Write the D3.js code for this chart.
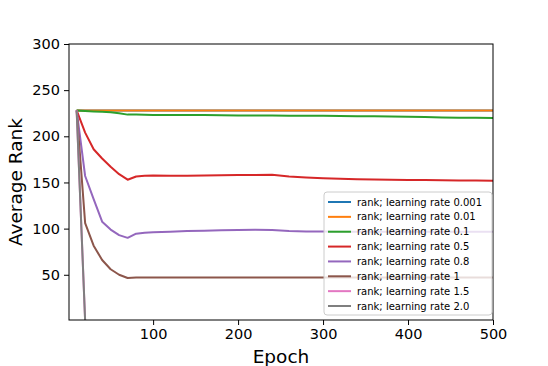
<!DOCTYPE html>
<html>
<head>
<script src="https://d3js.org/d3.v7.min.js"></script>
<style>
  body { margin: 0; background: #fff; }
  svg { font-family: "DejaVu Sans", sans-serif; }
</style>
</head>
<body>
<div id="chart"></div>
<script>
// epochs shared by every series
const epochs = [10, 20, 30, 40, 50, 60, 70, 80, 90, 100, 120, 140, 160, 180, 200, 220, 240, 260, 280, 300,
                320, 340, 360, 380, 400, 420, 440, 460, 480, 500];

const lr0001 = [228, 228, 228, 228, 228, 228, 228, 228, 228, 228, 228, 228, 228, 228, 228, 228, 228, 228, 228, 228,
                228, 228, 228, 228, 228, 228, 228, 228, 228, 228];
const lr001 = [228, 228, 228, 228, 228, 228, 228, 228, 228, 228, 228, 228, 228, 228, 228, 228, 228, 228, 228, 228,
               228, 228, 228, 228, 228, 228, 228, 228, 228, 228];
const lr01 = [228, 227.5, 227, 226.5, 226, 225, 223.5, 223.5, 223.3, 223.2, 223, 223, 223, 222.8, 222.6, 222.5, 222.5, 222.4, 222.3, 222.2,
              222, 221.8, 221.6, 221.4, 221.2, 220.8, 220.5, 220.2, 220, 219.7];
const lr05 = [228, 204, 186, 176, 167, 159, 153, 156.5, 157.3, 157.5, 157.4, 157.4, 157.6, 157.8, 158, 158.2, 158.3, 156.5, 155.3, 154.5,
              154, 153.6, 153.3, 153, 152.8, 152.6, 152.4, 152.2, 152, 151.8];
const lr08 = [228, 157, 132, 107.5, 99, 93, 90, 94.5, 95.5, 96, 96.5, 97.3, 97.8, 98.3, 98.6, 98.8, 98.5, 97.5, 97, 96.8,
              96.7, 96.6, 96.6, 96.5, 96.5, 96.5, 96.5, 96.5, 96.5, 96.5];
const lr1 = [228, 106, 81.5, 66, 56, 50, 46.5, 47, 47, 47, 47, 47, 47, 47, 47, 47, 47, 47, 47, 47,
             47, 47, 47, 47, 47, 47, 47, 47, 47, 47];
const lr15 = [228, 0, 0, 0, 0, 0, 0, 0, 0, 0, 0, 0, 0, 0, 0, 0, 0, 0, 0, 0,
              0, 0, 0, 0, 0, 0, 0, 0, 0, 0];
const lr2 = [228, 0, 0, 0, 0, 0, 0, 0, 0, 0, 0, 0, 0, 0, 0, 0, 0, 0, 0, 0,
             0, 0, 0, 0, 0, 0, 0, 0, 0, 0];

const seriesLabels = ["rank; learning rate 0.001", "rank; learning rate 0.01", "rank; learning rate 0.1",
                      "rank; learning rate 0.5", "rank; learning rate 0.8", "rank; learning rate 1",
                      "rank; learning rate 1.5", "rank; learning rate 2.0"];
const seriesValues = [lr0001, lr001, lr01, lr05, lr08, lr1, lr15, lr2];
const colors = ["#1f77b4", "#ff7f0e", "#2ca02c", "#d62728", "#9467bd", "#8c564b", "#e377c2", "#7f7f7f"];

const xTicks = [100, 200, 300, 400, 500];
const yTicks = [50, 100, 150, 200, 250, 300];

const WIDTH = 548, HEIGHT = 366;
const MARGIN = { top: 44, right: 55, bottom: 46, left: 69 };
const INNER_W = WIDTH - MARGIN.left - MARGIN.right;
const INNER_H = HEIGHT - MARGIN.top - MARGIN.bottom;

const svg = d3.select("#chart").append("svg")
    .attr("width", WIDTH)
    .attr("height", HEIGHT);

const g = svg.append("g")
    .attr("transform", `translate(${MARGIN.left},${MARGIN.top})`);

const x = d3.scaleLinear().domain([1, 500]).range([0, INNER_W]);
const y = d3.scaleLinear().domain([1, 300]).range([INNER_H, 0]);

svg.append("defs").append("clipPath").attr("id", "clip")
    .append("rect").attr("width", INNER_W).attr("height", INNER_H);

// lines
const line = d3.line()
    .x((d, i) => x(epochs[i]))
    .y(d => y(d));

g.append("g").attr("clip-path", "url(#clip)")
    .selectAll("path")
    .data(seriesValues)
    .join("path")
    .attr("fill", "none")
    .attr("stroke", (d, i) => colors[i])
    .attr("stroke-width", 2)
    .attr("stroke-linejoin", "round")
    .attr("d", line);

// axes
const xAxis = g.append("g")
    .attr("transform", `translate(0,${INNER_H})`)
    .call(d3.axisBottom(x).tickValues(xTicks).tickSize(5).tickPadding(4));
const yAxis = g.append("g")
    .call(d3.axisLeft(y).tickValues(yTicks).tickSize(5).tickPadding(4));

[xAxis, yAxis].forEach(a => {
    a.select(".domain").remove();
    a.selectAll("text").attr("font-size", 14.5).attr("fill", "#000")
        .attr("font-family", "DejaVu Sans");
    a.selectAll("line").attr("stroke", "#000");
});

// frame
g.append("rect")
    .attr("width", INNER_W)
    .attr("height", INNER_H)
    .attr("fill", "none")
    .attr("stroke", "#000")
    .attr("stroke-width", 1);

// axis labels
svg.append("text")
    .attr("x", MARGIN.left + INNER_W / 2)
    .attr("y", 363)
    .attr("text-anchor", "middle")
    .attr("font-size", 18.5)
    .text("Epoch");

svg.append("text")
    .attr("transform", `translate(22,182) rotate(-90)`)
    .attr("text-anchor", "middle")
    .attr("font-size", 18.5)
    .text("Average Rank");

// legend
const legend = svg.append("g").attr("transform", "translate(324,192)");
legend.append("rect")
    .attr("width", 168)
    .attr("height", 123)
    .attr("rx", 3)
    .attr("fill", "#fff")
    .attr("fill-opacity", 0.8)
    .attr("stroke", "#ccc")
    .attr("stroke-width", 1);

const items = legend.selectAll("g.item")
    .data(seriesLabels)
    .join("g")
    .attr("class", "item")
    .attr("transform", (d, i) => `translate(0,${10 + i * 14.86})`);

items.append("line")
    .attr("x1", 4).attr("x2", 27)
    .attr("stroke", (d, i) => colors[i])
    .attr("stroke-width", 2);

items.append("text")
    .attr("x", 33)
    .attr("dy", "0.35em")
    .attr("font-size", 10)
    .text(d => d);
</script>
</body>
</html>
